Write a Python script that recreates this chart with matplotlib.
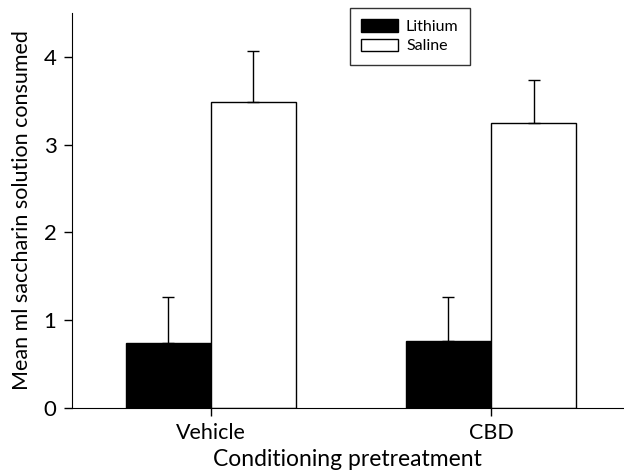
import numpy as np
import matplotlib.pyplot as plt

plt.rcParams['font.family'] = ['Lato', 'DejaVu Sans']

# Data
groups = ["Vehicle", "CBD"]
lithium_mean = [0.74, 0.76]
lithium_err = [0.53, 0.50]
saline_mean = [3.48, 3.25]
saline_err = [0.59, 0.49]

x = np.arange(len(groups))
width = 0.304

fig = plt.figure(figsize=(6.24, 4.72), dpi=100)
ax = fig.add_axes([0.115, 0.1356, 0.885, 0.837])

err_kw = dict(ecolor='black', elinewidth=1.0, capsize=4.5, capthick=1.0)
ax.bar(x - width / 2, lithium_mean, width, color='black', edgecolor='black',
       linewidth=1.0, label='Lithium',
       yerr=[np.zeros(len(groups)), lithium_err], error_kw=err_kw)
ax.bar(x + width / 2, saline_mean, width, color='white', edgecolor='black',
       linewidth=1.0, label='Saline',
       yerr=[np.zeros(len(groups)), saline_err], error_kw=err_kw)

ax.set_xlim(-0.496, 1.475)
ax.set_ylim(0, 4.5)
ax.set_xticks(x)
ax.set_xticklabels(groups, fontsize=15.5)
ax.set_yticks([0, 1, 2, 3, 4])
ax.set_yticklabels(['0', '1', '2', '3', '4'], fontsize=16)
ax.tick_params(direction='out', length=6, width=1, colors='black', pad=5)
ax.spines['top'].set_visible(False)
ax.spines['right'].set_visible(False)

ax.set_xlabel('Conditioning pretreatment', fontsize=16.5, labelpad=4)
ax.set_ylabel('Mean ml saccharin solution consumed', fontsize=15.5, labelpad=8)

leg = ax.legend(loc='upper left', bbox_to_anchor=(0.504, 1.012), fontsize=11.5,
                frameon=True, fancybox=False, edgecolor='black',
                handlelength=2.3, handleheight=0.8, borderpad=0.7,
                labelspacing=0.3, handletextpad=0.5, borderaxespad=0)
leg.get_frame().set_linewidth(1.0)

fig.savefig('out.png', dpi=100)
